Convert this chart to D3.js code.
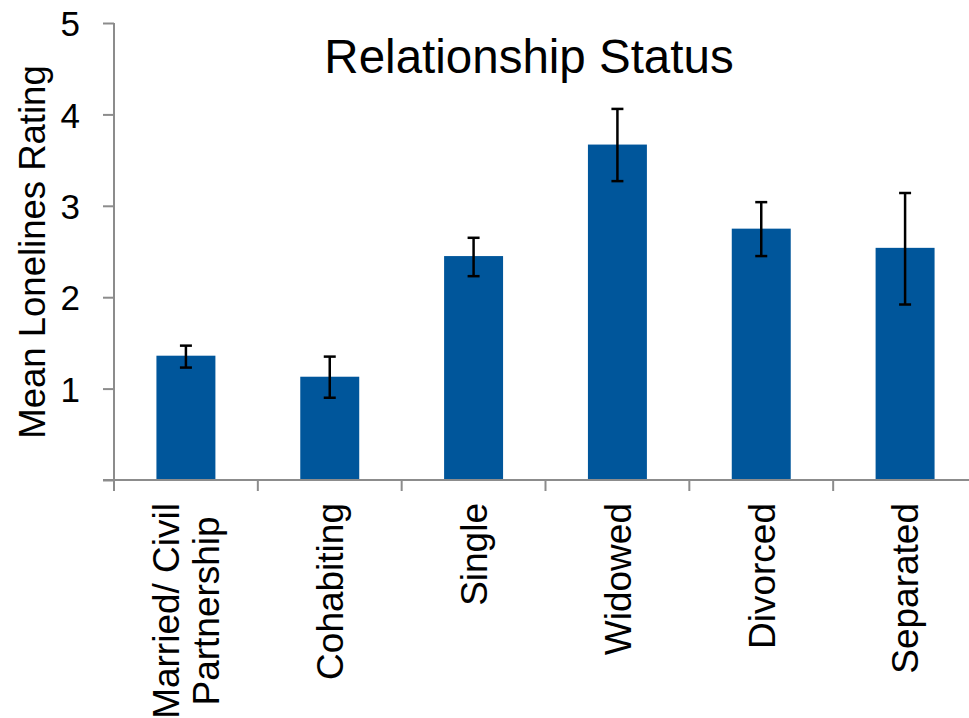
<!DOCTYPE html>
<html>
<head>
<meta charset="utf-8">
<script src="https://cdn.jsdelivr.net/npm/d3@7"></script>
<style>
  body { margin: 0; background: #fff; }
  svg { display: block; font-family: "Liberation Sans", Arial, sans-serif; }
</style>
</head>
<body>
<script>
const width = 969;
const height = 718;

const categories = [["Married/ Civil", "Partnership"], ["Cohabiting"], ["Single"], ["Widowed"], ["Divorced"], ["Separated"]];
const means = [1.36, 1.13, 2.45, 3.67, 2.75, 2.54];
const errLow = [1.23, 0.90, 2.23, 3.27, 2.45, 1.92];
const errHigh = [1.47, 1.35, 2.65, 4.06, 3.04, 3.14];
const yTicks = [0, 1, 2, 3, 4, 5];

const AXIS = "#8c8c8c";
const BAR = "#00569b";

const svg = d3.create("svg").attr("width", width).attr("height", height);
document.body.appendChild(svg.node());

const x = d3.scaleBand()
  .domain(d3.range(categories.length))
  .range([114, 977])
  .paddingInner(0.59)
  .paddingOuter(0.295);

const y = d3.scaleLinear().domain([0, 5]).range([480, 23]);

// title
svg.append("text")
  .attr("x", 529)
  .attr("y", 73)
  .attr("text-anchor", "middle")
  .attr("font-size", 47.5)
  .text("Relationship Status");

// y axis title
svg.append("text")
  .attr("transform", `translate(45,252) rotate(-90)`)
  .attr("text-anchor", "middle")
  .attr("font-size", 36.5)
  .text("Mean Lonelines Rating");

// bars
svg.selectAll(".bar")
  .data(means)
  .join("rect")
  .attr("class", "bar")
  .attr("x", (d, i) => x(i))
  .attr("y", (d) => y(d))
  .attr("width", x.bandwidth())
  .attr("height", (d) => y(0) - y(d))
  .attr("fill", BAR);

// error bars
const err = svg.selectAll(".err")
  .data(means)
  .join("g")
  .attr("class", "err")
  .attr("stroke", "#000")
  .attr("stroke-width", 2.5);

const cx = (i) => x(i) + x.bandwidth() / 2;

err.append("line")
  .attr("x1", (d, i) => cx(i)).attr("x2", (d, i) => cx(i))
  .attr("y1", (d, i) => y(errLow[i])).attr("y2", (d, i) => y(errHigh[i]));
err.append("line")
  .attr("x1", (d, i) => cx(i) - 6).attr("x2", (d, i) => cx(i) + 6)
  .attr("y1", (d, i) => y(errLow[i])).attr("y2", (d, i) => y(errLow[i]));
err.append("line")
  .attr("x1", (d, i) => cx(i) - 6).attr("x2", (d, i) => cx(i) + 6)
  .attr("y1", (d, i) => y(errHigh[i])).attr("y2", (d, i) => y(errHigh[i]));

// y axis
const yAxis = svg.append("g")
  .attr("transform", "translate(114,0)")
  .call(d3.axisLeft(y).tickValues(yTicks).tickFormat(d3.format("d"))
    .tickSize(11).tickPadding(23).tickSizeOuter(0));
yAxis.select(".domain").remove();
yAxis.selectAll(".tick line").attr("stroke", AXIS).attr("stroke-width", 2);
yAxis.selectAll(".tick text")
  .attr("font-size", 35)
  .attr("font-family", "Liberation Sans, Arial, sans-serif")
  .attr("fill", "#000")
  .attr("dy", "0.36em");
yAxis.selectAll(".tick").filter((d) => d === 0).select("text").remove();

svg.append("line")
  .attr("x1", 114).attr("x2", 114)
  .attr("y1", y(5)).attr("y2", y(0) + 11)
  .attr("stroke", AXIS).attr("stroke-width", 2);

// x axis
svg.append("line")
  .attr("x1", 103).attr("x2", width)
  .attr("y1", y(0)).attr("y2", y(0))
  .attr("stroke", AXIS).attr("stroke-width", 2);

const step = x.step();
svg.selectAll(".xtick")
  .data(d3.range(categories.length + 1))
  .join("line")
  .attr("class", "xtick")
  .attr("x1", (d) => 114 + d * step).attr("x2", (d) => 114 + d * step)
  .attr("y1", y(0)).attr("y2", y(0) + 11)
  .attr("stroke", AXIS).attr("stroke-width", 2);

// category labels, rotated, lines centred on the longest one
const labelTop = 503;
const lineGap = 40;
categories.forEach((lines, i) => {
  const g = svg.append("g");
  const texts = lines.map((line, k) => {
    const off = (k - (lines.length - 1) / 2) * lineGap;
    return g.append("text")
      .attr("font-size", 37)
      .attr("text-anchor", "end")
      .attr("dy", "0.36em")
      .attr("data-off", off)
      .text(line);
  });
  const lens = texts.map((t) => t.node().getComputedTextLength());
  const maxLen = d3.max(lens);
  texts.forEach((t, k) => {
    const top = labelTop + (maxLen - lens[k]) / 2;
    t.attr("transform", `translate(${cx(i) + +t.attr("data-off")},${top}) rotate(-90)`);
  });
});
</script>
</body>
</html>
